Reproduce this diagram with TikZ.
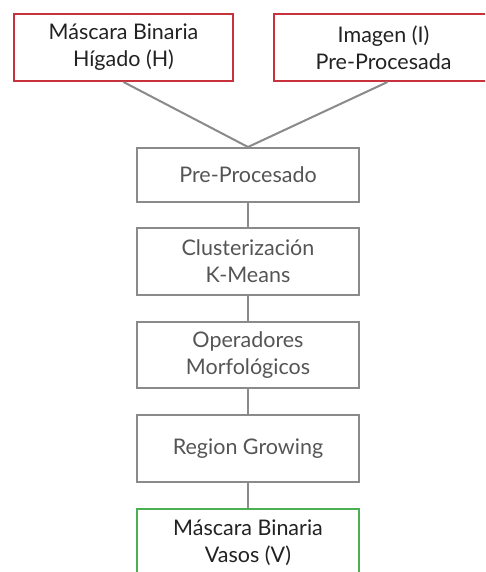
\documentclass[tikz,border=0pt]{standalone}
\usepackage{fontspec}
\setmainfont{Lato}
\definecolor{redb}{HTML}{C8323C}
\definecolor{greenb}{HTML}{4CAF50}
\definecolor{grayb}{HTML}{8A8A8A}
\definecolor{grayt}{HTML}{555555}
\definecolor{darkt}{HTML}{222222}
\begin{document}
\begin{tikzpicture}[x=1pt,y=-1pt,
  box/.style={draw, rectangle, line width=2pt, inner sep=0pt, align=center,
    minimum width=219pt, minimum height=67pt,
    font=\fontsize{21.5}{27}\selectfont},
  inbox/.style={box, draw=redb, text=darkt},
  procbox/.style={box, draw=grayb, text=grayt, minimum width=222pt},
  outbox/.style={box, draw=greenb, text=darkt, minimum width=222pt},
  conn/.style={draw=grayb, line width=2pt}]
\useasboundingbox (0,0) rectangle (485,572);
\clip (0,0) rectangle (485,572);
\fill[white] (0,0) rectangle (485,572);
\node[inbox] (h) at (123.5,47.5) {Máscara Binaria\\Hígado (H)};
\node[inbox] (i) at (383.5,47.5) {Imagen (I)\\Pre-Procesada};
\node[procbox, minimum height=54pt] (pre) at (248,175) {Pre-Procesado};
\node[procbox] (km) at (248,261.5) {Clusterización\\K-Means};
\node[procbox, minimum height=66pt] (mo) at (248,355) {Operadores\\Morfológicos};
\node[procbox] (rg) at (248,448.5) {Region Growing};
\node[outbox] (v) at (248,542.5) {Máscara Binaria\\Vasos (V)};
\draw[conn] (h.south) -- (pre.north);
\draw[conn] ([xshift=4pt]i.south) -- (pre.north);
\draw[conn] (pre) -- (km);
\draw[conn] (km) -- (mo);
\draw[conn] (mo) -- (rg);
\draw[conn] (rg) -- (v);
\end{tikzpicture}
\end{document}
